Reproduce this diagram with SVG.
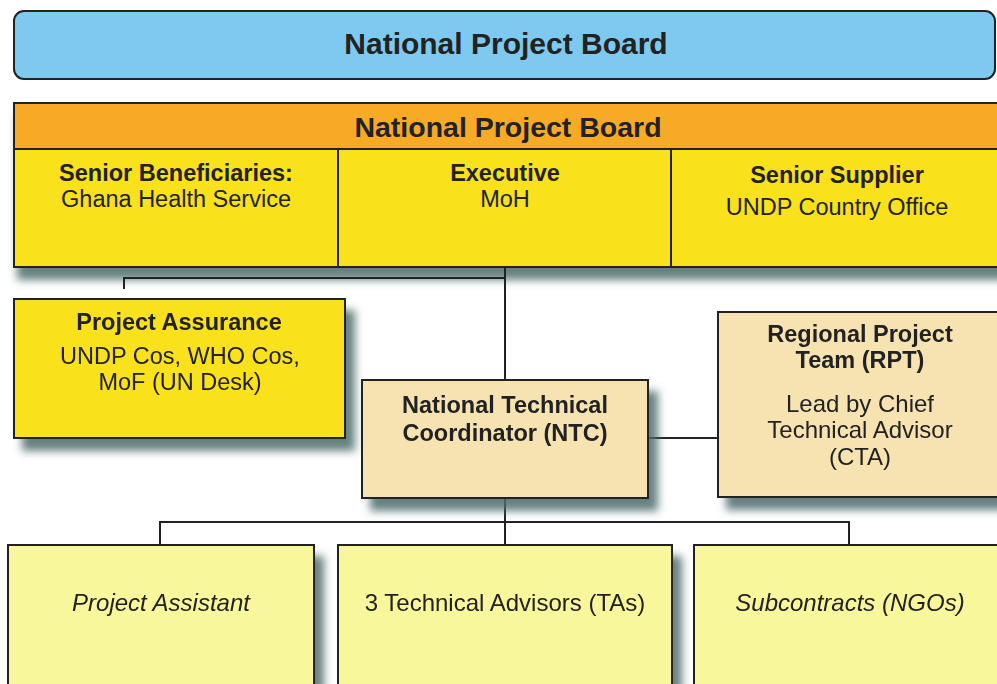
<svg xmlns="http://www.w3.org/2000/svg" width="997" height="684" viewBox="0 0 997 684" font-family="'Liberation Sans', Arimo, Arial, sans-serif">
<defs>
<filter id="sh" x="-10%" y="-10%" width="130%" height="140%">
<feGaussianBlur in="SourceAlpha" stdDeviation="4" result="b"/>
<feOffset in="b" dx="9" dy="12" result="o"/>
<feFlood flood-color="#4d6b6b" flood-opacity="0.85"/>
<feComposite in2="o" operator="in" result="s"/>
<feMerge><feMergeNode in="s"/><feMergeNode in="SourceGraphic"/></feMerge>
</filter>
<filter id="shd" x="-5%" y="-10%" width="110%" height="140%">
<feGaussianBlur in="SourceAlpha" stdDeviation="4" result="b"/>
<feOffset in="b" dx="4" dy="12" result="o"/>
<feFlood flood-color="#4d6b6b" flood-opacity="0.85"/>
<feComposite in2="o" operator="in" result="s"/>
<feMerge><feMergeNode in="s"/><feMergeNode in="SourceGraphic"/></feMerge>
</filter>
<style>
text{font-family:"Liberation Sans",Arimo,Arial,sans-serif;fill:#222;text-anchor:middle}
.b{font-weight:bold}
.i{font-style:italic}
.box{stroke:#222;stroke-width:2}
.ln{stroke:#222;stroke-width:2;fill:none}
</style>
</defs>
<rect width="997" height="684" fill="#fff"/>

<g id="top-board">
<rect x="14" y="11" width="981" height="68" rx="10" fill="#7dc9f0" class="box"/>
<text x="506" y="54" font-size="30" class="b">National Project Board</text>
</g>

<g id="board" filter="url(#shd)">
<rect x="14" y="103" width="990" height="164" fill="#f9e21c" class="box"/>
<rect x="14" y="103" width="990" height="46" fill="#f7aa26" class="box"/>
<line x1="338" y1="149" x2="338" y2="267" class="ln"/>
<line x1="671" y1="149" x2="671" y2="267" class="ln"/>
</g>
<g id="board-text">
<text x="508" y="137" font-size="28.5" class="b">National Project Board</text>
</g>
<g id="senior-beneficiaries">
<text x="176" y="181" font-size="23.5" class="b">Senior Beneficiaries:</text>
<text x="176" y="207" font-size="23.5">Ghana Health Service</text>
</g>
<g id="executive">
<text x="505" y="181" font-size="23.5" class="b">Executive</text>
<text x="505" y="207" font-size="23.5">MoH</text>
</g>
<g id="senior-supplier">
<text x="837" y="183" font-size="23.5" class="b">Senior Supplier</text>
<text x="837" y="215" font-size="23.5">UNDP Country Office</text>
</g>

<g id="connectors">
<polyline points="124,289 124,278 505,278" class="ln"/>
<line x1="505" y1="267" x2="505" y2="380" class="ln"/>
<line x1="648" y1="438" x2="718" y2="438" class="ln"/>
<line x1="505" y1="498" x2="505" y2="545" class="ln"/>
<polyline points="160,545 160,522 849,522 849,545" class="ln"/>
</g>

<g id="project-assurance" filter="url(#sh)">
<rect x="14" y="299" width="331" height="139" fill="#f9e21c" class="box"/>
<text x="179" y="330" font-size="23.5" class="b">Project Assurance</text>
<text x="180" y="364" font-size="23.5">UNDP Cos, WHO Cos,</text>
<text x="180" y="390" font-size="23.5">MoF (UN Desk)</text>
</g>

<g id="ntc" filter="url(#sh)">
<rect x="362" y="380" width="286" height="118" fill="#f7e3b1" class="box"/>
<text x="505" y="413" font-size="23.5" class="b">National Technical</text>
<text x="505" y="441" font-size="23.5" class="b">Coordinator (NTC)</text>
</g>

<g id="rpt" filter="url(#sh)">
<rect x="718" y="312" width="290" height="185" fill="#f7e3b1" class="box"/>
<text x="860" y="342" font-size="23.5" class="b">Regional Project</text>
<text x="860" y="368" font-size="23.5" class="b">Team (RPT)</text>
<text x="860" y="412" font-size="24">Lead by Chief</text>
<text x="860" y="438" font-size="24">Technical Advisor</text>
<text x="860" y="465" font-size="24">(CTA)</text>
</g>

<g id="project-assistant" filter="url(#sh)">
<rect x="8" y="545" width="306" height="150" fill="#f9f79c" class="box"/>
<text x="161" y="611" font-size="24" class="i">Project Assistant</text>
</g>

<g id="technical-advisors" filter="url(#sh)">
<rect x="338" y="545" width="334" height="150" fill="#f9f79c" class="box"/>
<text x="505" y="611" font-size="24">3 Technical Advisors (TAs)</text>
</g>

<g id="subcontracts" filter="url(#sh)">
<rect x="694" y="545" width="320" height="150" fill="#f9f79c" class="box"/>
<text x="850" y="611" font-size="24" class="i">Subcontracts (NGOs)</text>
</g>
</svg>
